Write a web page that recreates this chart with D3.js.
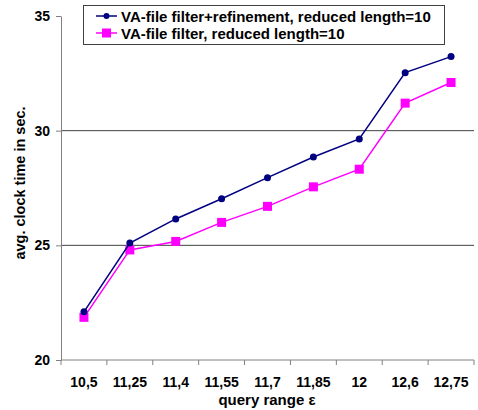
<!DOCTYPE html>
<html>
<head>
<meta charset="utf-8">
<script src="https://cdn.jsdelivr.net/npm/d3@7"></script>
<style>
  body { margin: 0; background: #fff; }
  text { font-family: Arial, "Liberation Sans", sans-serif; }
</style>
</head>
<body>
<svg id="chart" width="478" height="410"></svg>
<script>
let categories = ["10,5", "11,25", "11,4", "11,55", "11,7", "11,85", "12", "12,6", "12,75"]
let refineValues = [22.1, 25.1, 26.15, 27.03, 27.95, 28.85, 29.64, 32.53, 33.23]
let filterValues = [21.86, 24.8, 25.17, 26.0, 26.7, 27.55, 28.32, 31.2, 32.1]
let yTicks = [20, 25, 30, 35]
let seriesNames = ["VA-file filter+refinement, reduced length=10", "VA-file filter, reduced length=10"]

let width = 478, height = 410
let margin = { top: 16, right: 4, bottom: 50, left: 61 }
let svg = d3.select("#chart")

let x = d3.scaleBand()
    .domain(categories)
    .range([margin.left, width - margin.right])

let y = d3.scaleLinear()
    .domain([20, 35])
    .range([height - margin.bottom, margin.top])

// gridlines (not at top)
svg.append("g")
    .selectAll("line")
    .data(yTicks.filter(d => d > 20 && d < 35))
    .enter()
    .append("line")
      .attr("x1", margin.left)
      .attr("x2", width - margin.right)
      .attr("y1", d => y(d))
      .attr("y2", d => y(d))
      .style("stroke", "#404040")
      .style("stroke-width", 1)

// y axis
let yAxis = svg.append("g")
    .attr("transform", `translate(${margin.left},0)`)
    .call(d3.axisLeft(y).tickValues(yTicks).tickSize(5).tickSizeOuter(0).tickPadding(6))
yAxis.selectAll("path, line").style("stroke", "#808080")
yAxis.selectAll("text").style("font-size", "14px").style("font-weight", "bold").style("fill", "#000")

// x axis with ticks at band boundaries
let xAxisG = svg.append("g")
    .attr("transform", `translate(0,${height - margin.bottom})`)
xAxisG.append("line")
    .attr("x1", margin.left).attr("x2", width - margin.right)
    .style("stroke", "#808080")
xAxisG.selectAll(".tick")
    .data(categories)
    .enter()
    .append("line")
      .attr("x1", d => x(d) + x.bandwidth())
      .attr("x2", d => x(d) + x.bandwidth())
      .attr("y1", 0).attr("y2", 5)
      .style("stroke", "#808080")
xAxisG.append("line")
    .attr("x1", margin.left).attr("x2", margin.left)
    .attr("y1", 0).attr("y2", 5)
    .style("stroke", "#808080")
xAxisG.selectAll(".lbl")
    .data(categories)
    .enter()
    .append("text")
      .attr("x", d => x(d) + x.bandwidth() / 2)
      .attr("y", 27)
      .attr("text-anchor", "middle")
      .style("font-size", "14px")
      .style("font-weight", "bold")
      .text(d => d)

// axis titles
svg.append("text")
    .attr("x", 267)
    .attr("y", 405)
    .attr("text-anchor", "middle")
    .style("font-size", "15px")
    .style("font-weight", "bold")
    .text("query range ε")

svg.append("text")
    .attr("transform", `translate(25,183) rotate(-90)`)
    .attr("text-anchor", "middle")
    .style("font-size", "14.5px")
    .style("font-weight", "bold")
    .text("avg. clock time in sec.")

let line = d3.line()
    .x((d, i) => x(categories[i]) + x.bandwidth() / 2)
    .y(d => y(d))

// filter series (pink)
svg.append("path")
    .datum(filterValues)
    .attr("d", line)
    .style("fill", "none")
    .style("stroke", "#ff00ff")
    .style("stroke-width", 1.5)
svg.append("g")
    .selectAll("rect")
    .data(filterValues)
    .enter()
    .append("rect")
      .attr("x", (d, i) => x(categories[i]) + x.bandwidth() / 2 - 4.5)
      .attr("y", d => y(d) - 4.5)
      .attr("width", 9).attr("height", 9)
      .style("fill", "#ff00ff")

// refinement series (navy)
svg.append("path")
    .datum(refineValues)
    .attr("d", line)
    .style("fill", "none")
    .style("stroke", "#000080")
    .style("stroke-width", 1.5)
svg.append("g")
    .selectAll("circle")
    .data(refineValues)
    .enter()
    .append("circle")
      .attr("cx", (d, i) => x(categories[i]) + x.bandwidth() / 2)
      .attr("cy", d => y(d))
      .attr("r", 3.5)
      .style("fill", "#000080")

// legend
let legend = svg.append("g")
legend.append("rect")
    .attr("x", 83.5).attr("y", 5.5)
    .attr("width", 361).attr("height", 39)
    .style("fill", "#fff")
    .style("stroke", "#404040")
let legendColors = ["#000080", "#ff00ff"]
seriesNames.forEach(function (name, i) {
  let ly = 16 + i * 17
  legend.append("line")
      .attr("x1", 96).attr("x2", 117)
      .attr("y1", ly).attr("y2", ly)
      .style("stroke", legendColors[i])
      .style("stroke-width", 1.5)
  if (i == 0) {
    legend.append("circle").attr("cx", 106.5).attr("cy", ly).attr("r", 3).style("fill", legendColors[i])
  } else {
    legend.append("rect").attr("x", 102).attr("y", ly - 4.5).attr("width", 9).attr("height", 9).style("fill", legendColors[i])
  }
  legend.append("text")
      .attr("x", 121)
      .attr("y", ly + 5.5)
      .style("font-size", "15px")
      .style("font-weight", "bold")
      .text(name)
})
</script>
</body>
</html>
